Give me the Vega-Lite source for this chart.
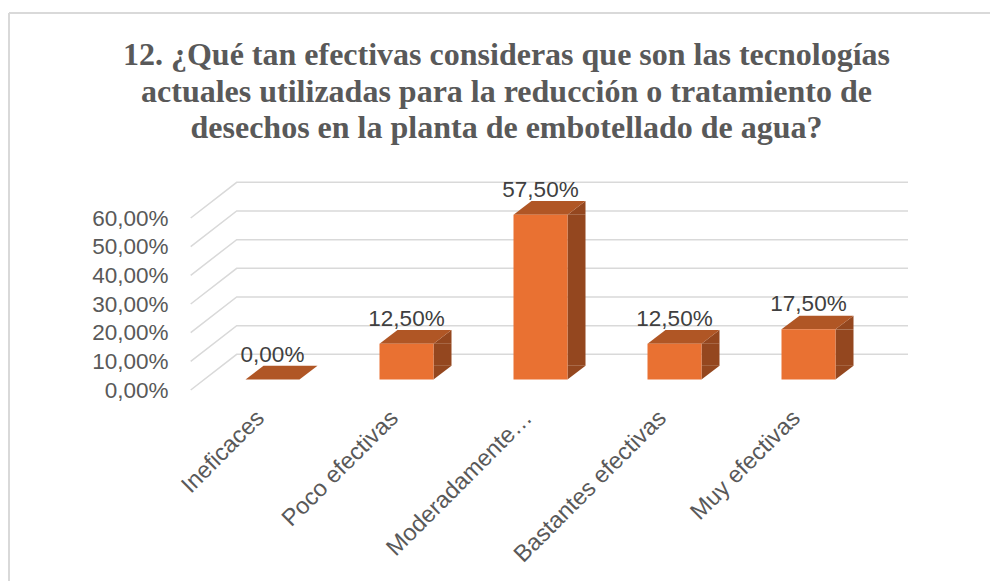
{
"$schema":"https://vega.github.io/schema/vega-lite/v6.json",
"autosize":{"type":"none"},
"padding":{"left":9,"top":13,"right":0,"bottom":0},
"width":981,"height":568,
"background":"#ffffff",
"view":{"stroke":null},
"title":{"text":["12. ¿Qué tan efectivas consideras que son las tecnologías","actuales utilizadas para la reducción o tratamiento de","desechos en la planta de embotellado de agua?"],"font":"Liberation Serif","fontWeight":"bold","fontSize":32,"color":"#595959","lineHeight":36.5,"anchor":"middle","frame":"group","dx":7,"dy":133,"offset":0,"baseline":"top"},
"datasets":{
"respuestas":[
{"categoria":"Ineficaces","valor":0,"etiqueta":"0,00%"},
{"categoria":"Poco efectivas","valor":12.5,"etiqueta":"12,50%"},
{"categoria":"Moderadamente…","valor":57.5,"etiqueta":"57,50%"},
{"categoria":"Bastantes efectivas","valor":12.5,"etiqueta":"12,50%"},
{"categoria":"Muy efectivas","valor":17.5,"etiqueta":"17,50%"}],
"marcas":[{"marca":0},{"marca":10},{"marca":20},{"marca":30},{"marca":40},{"marca":50},{"marca":60}]
},
"layer":[
{"data":{"values":[{"f":1}]},"mark":{"type":"rule","stroke":"#d9d9d9","strokeWidth":2},"encoding":{"y":{"value":0}}},
{"data":{"values":[{"f":1}]},"mark":{"type":"rule","stroke":"#d9d9d9","strokeWidth":2},"encoding":{"x":{"value":0}}},
{"data":{"name":"marcas"},
"mark":{"type":"point","shape":"M -1.636 0.21 L -0.716 -0.504 L 12.71 -0.504","size":10000,"filled":false,"fill":null,"stroke":"#d9d9d9","strokeWidth":1.5,"opacity":1},
"encoding":{
"x":{"datum":"Ineficaces","type":"nominal","scale":{"domain":["Ineficaces","Poco efectivas","Moderadamente…","Bastantes efectivas","Muy efectivas"],"range":[196.5,866.5],"paddingInner":0,"paddingOuter":0},
"axis":{"orient":"bottom","offset":-201,"title":null,"domain":false,"ticks":false,"labelAngle":-45,"labelAlign":"right","labelBaseline":"middle","labelPadding":34,"labelOffset":-12,"labelFont":"Liberation Sans","labelFontSize":23.5,"labelColor":"#595959","labelLimit":0,"grid":false,
"encoding":{"labels":{"update":{"dx":{"signal":"datum.value==='Moderadamente…'?14:0"}}}}}},
"y":{"field":"marca","type":"quantitative","scale":{"domain":[0,60],"range":[366.5,194.5],"nice":false,"zero":true},
"axis":{"orient":"left","offset":-159,"title":null,"domain":false,"ticks":false,"grid":false,"values":[0,10,20,30,40,50,60],"labelExpr":"replace(format(datum.value,'.2f'),'.',',')+'%'","labelPadding":0,"labelOffset":10.5,"labelFont":"Liberation Sans","labelFontSize":22.5,"labelColor":"#595959"}}
}},
{"data":{"name":"respuestas"},"transform":[{"filter":"datum.valor>0"}],
"mark":{"type":"bar","width":18,"xOffset":36,"y2Offset":-13.7,"fill":"#94471f"},
"encoding":{"x":{"field":"categoria","type":"nominal"},"y":{"field":"valor","type":"quantitative"},"y2":{"datum":0}}},
{"data":{"name":"respuestas"},"transform":[{"filter":"datum.valor>0"}],
"mark":{"type":"point","shape":"M 0.54 0 L 0.9 -0.274 L 0.9 0 Z","size":10000,"filled":true,"fill":"#94471f","stroke":null,"opacity":1},
"encoding":{"x":{"field":"categoria","type":"nominal"},"y":{"field":"valor","type":"quantitative"}}},
{"data":{"name":"respuestas"},"transform":[{"filter":"datum.valor>0"}],
"mark":{"type":"point","shape":"M 0.54 0 L 0.9 -0.274 L 0.54 -0.274 Z","size":10000,"filled":true,"fill":"#94471f","stroke":null,"opacity":1},
"encoding":{"x":{"field":"categoria","type":"nominal"},"y":{"datum":0,"type":"quantitative"}}},
{"data":{"name":"respuestas"},
"mark":{"type":"point","shape":"M -0.54 0 L 0.54 0 L 0.9 -0.274 L -0.18 -0.274 Z","size":10000,"filled":true,"fill":"#b05625","stroke":null,"opacity":1},
"encoding":{"x":{"field":"categoria","type":"nominal"},"y":{"field":"valor","type":"quantitative"}}},
{"data":{"name":"respuestas"},"transform":[{"filter":"datum.valor>0"}],
"mark":{"type":"bar","width":54,"fill":"#e97132"},
"encoding":{"x":{"field":"categoria","type":"nominal"},"y":{"field":"valor","type":"quantitative"},"y2":{"datum":0}}},
{"data":{"name":"respuestas"},
"mark":{"type":"text","font":"Liberation Sans","fontSize":22.5,"fill":"#404040","baseline":"alphabetic","dy":-18,"align":"center"},
"encoding":{"x":{"field":"categoria","type":"nominal"},"y":{"field":"valor","type":"quantitative"},"text":{"field":"etiqueta"}}}
]
}
